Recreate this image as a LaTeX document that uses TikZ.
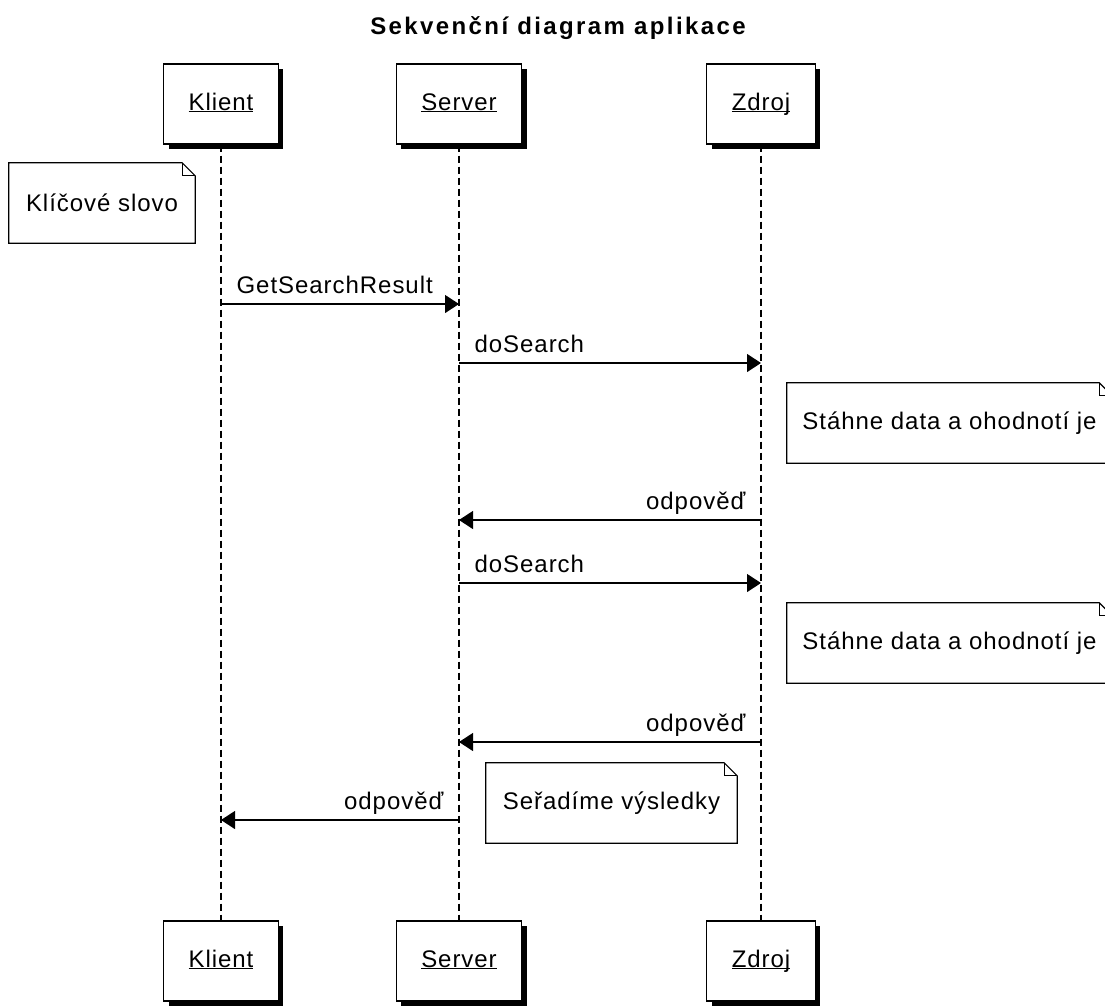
\documentclass[tikz,border=0pt]{standalone}
\usepackage{fontspec}
\setmainfont{Liberation Sans}[LetterSpace=4]
\newfontfamily\titlefont{Liberation Sans}[LetterSpace=10]
\usetikzlibrary{arrows.meta,shadows}

\newcommand\uname[1]{\underline{\vphantom{K}\smash{#1}}}
\newcommand\notefold[1]{%
  \draw[line width=1.2pt] (#1.south west) -- (#1.north west) -- ([xshift=-13pt]#1.north east)
    -- ([yshift=-13pt]#1.north east) -- (#1.south east) -- cycle;
  \draw[line width=1pt] ([xshift=-13pt]#1.north east) |- ([yshift=-13pt]#1.north east);}

\begin{document}
\begin{tikzpicture}[x=1pt, y=-1pt, >={Triangle[length=14pt,width=18pt]},
  every node/.style={font=\fontsize{24}{28}\selectfont},
  actor/.style={draw, line width=1.2pt, fill=white, inner xsep=25pt, minimum height=80pt,
    text height=18pt, text depth=6pt,
    drop shadow={shadow xshift=5pt, shadow yshift=-5pt, fill=black, opacity=1}},
  life/.style={line width=1.2pt, dash pattern=on 7pt off 4pt},
  msg/.style={->, line width=1.2pt},
  lbl/.style={inner sep=0pt},
  note/.style={minimum width=#1, minimum height=80pt, inner sep=0pt}]
  \useasboundingbox (0,0) rectangle (1105,1007);
  \clip (0,0) rectangle (1105,1007);

  \node[anchor=base] (title) at (558,34) {\titlefont\bfseries Sekvenční diagram aplikace};

  % ucastnici
  \node[actor] (k-top) at (221,104) {\uname{Klient}};
  \node[actor] (s-top) at (459,104) {\uname{Server}};
  \node[actor] (z-top) at (761,104) {\uname{Zdroj}};
  \node[actor] (k-bot) at (221,961) {\uname{Klient}};
  \node[actor] (s-bot) at (459,961) {\uname{Server}};
  \node[actor] (z-bot) at (761,961) {\uname{Zdroj}};

  \foreach \p in {k,s,z}
    \draw[life] (\p-top.south) -- (\p-bot.north);

  \foreach \i/\y in {1/304, 2/363, 3/520, 4/583, 5/742, 6/820} {
    \coordinate (k\i) at (221,\y);
    \coordinate (s\i) at (459,\y);
    \coordinate (z\i) at (761,\y);
  }

  % zpravy
  \draw[msg] (k1) -- (s1) node[lbl, pos=0, anchor=base west, xshift=15pt, yshift=11pt] (m1) {GetSearchResult};
  \draw[msg] (s2) -- (z2) node[lbl, pos=0, anchor=base west, xshift=15pt, yshift=11pt] (m2) {doSearch};
  \draw[msg] (z3) -- (s3) node[lbl, pos=0, anchor=base east, xshift=-15pt, yshift=11pt] (m3) {odpověď};
  \draw[msg] (s4) -- (z4) node[lbl, pos=0, anchor=base west, xshift=15pt, yshift=11pt] (m4) {doSearch};
  \draw[msg] (z5) -- (s5) node[lbl, pos=0, anchor=base east, xshift=-15pt, yshift=11pt] (m5) {odpověď};
  \draw[msg] (s6) -- (k6) node[lbl, pos=0, anchor=base east, xshift=-15pt, yshift=11pt] (m6) {odpověď};

  % poznamky
  \node[note=186pt] (n1) at (102,203) {Klíčové slovo};
  \notefold{n1}
  \node[note=325pt] (n2) at (949.5,423) {Stáhne data a ohodnotí je};
  \notefold{n2}
  \node[note=325pt] (n3) at (949.5,643) {Stáhne data a ohodnotí je};
  \notefold{n3}
  \node[note=251pt] (n4) at (611.5,803) {Seřadíme výsledky};
  \notefold{n4}
\end{tikzpicture}
\end{document}
